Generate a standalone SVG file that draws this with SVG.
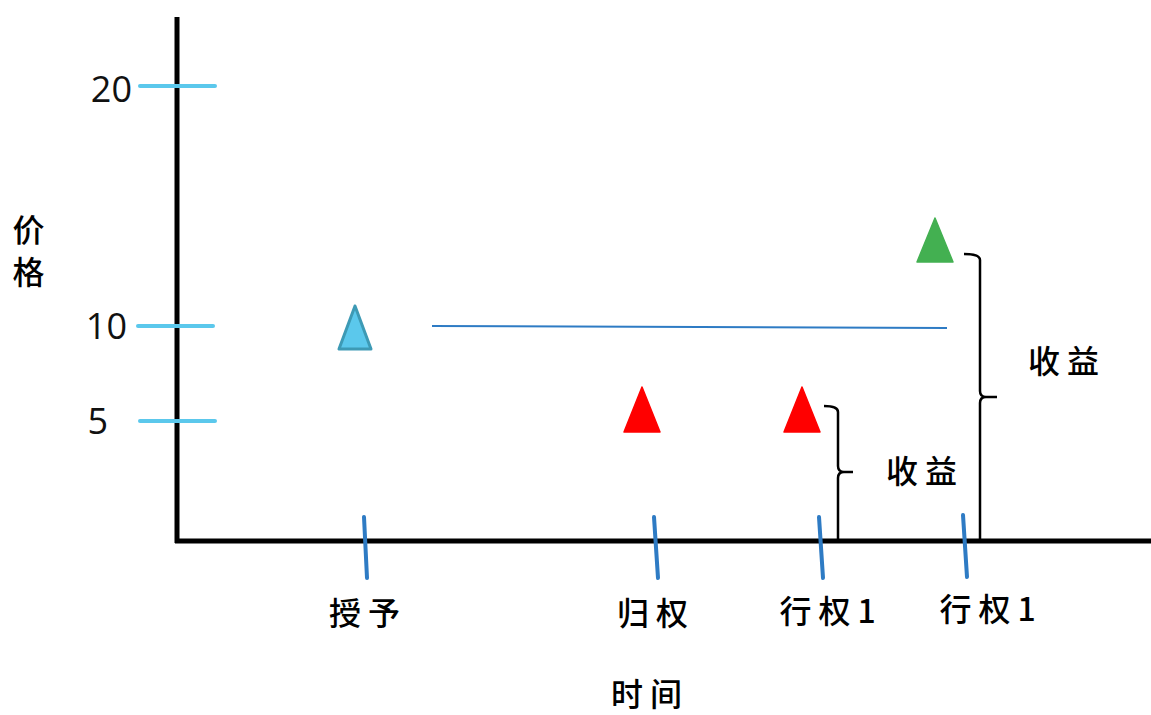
<svg xmlns="http://www.w3.org/2000/svg" width="1151" height="715" viewBox="0 0 1151 715">
<style>
.axis{stroke:#000;stroke-width:5;fill:none}
.ytick{stroke:#5bc8ec;stroke-width:4;stroke-linecap:round}
.xtick{stroke:#2e7bc4;stroke-width:4;stroke-linecap:round}
.brace{stroke:#000;stroke-width:2.5;fill:none}
.num{font-family:"Open Sans","Noto Sans",sans-serif;font-size:36px;fill:#111}
.cjk{font-family:"Noto Sans CJK SC",sans-serif;font-size:32px;font-weight:500;fill:#000;letter-spacing:7px}
</style>
<rect width="1151" height="715" fill="#fff"/>
<g id="axes">
<line class="axis" x1="177" y1="17" x2="177" y2="543"/>
<line class="axis" x1="175" y1="541" x2="1151" y2="541"/>
</g>
<g id="y-ticks">
<line class="ytick" x1="140" y1="86" x2="215" y2="86"/>
<line class="ytick" x1="138" y1="326" x2="213" y2="326"/>
<line class="ytick" x1="140" y1="421" x2="215" y2="421"/>
<text class="num" x="132" y="102" text-anchor="end">20</text>
<text class="num" x="127" y="339" text-anchor="end">10</text>
<text class="num" x="108" y="434" text-anchor="end">5</text>
</g>
<g id="y-label">
<text class="cjk" x="32" y="242" text-anchor="middle" letter-spacing="0" font-size="34">价</text>
<text class="cjk" x="32" y="284" text-anchor="middle" letter-spacing="0" font-size="34">格</text>
</g>
<g id="connectors">
<line x1="432" y1="326" x2="947" y2="328" stroke="#2e7bc4" stroke-width="2"/>
<path class="brace" d="M824,406 Q838,406 838,412 V466 Q838,472 844,472 H853 M844,472 Q838,472 838,478 V541"/>
<path class="brace" d="M964,254 Q980,254 980,260 V391 Q980,397 986,397 H997 M986,397 Q980,397 980,403 V541"/>
</g>
<g id="grant">
<polygon points="355,306 339,349 371,349" fill="#5bc8ec" stroke="#3d9ab5" stroke-width="3" stroke-linejoin="round"/>
<line class="xtick" x1="364" y1="517" x2="367" y2="578"/>
<text class="cjk" x="368" y="625" text-anchor="middle">授予</text>
</g>
<g id="vest">
<polygon points="642,387 624,432 660,432" fill="#ff0000" stroke="#ff0000" stroke-width="1.5" stroke-linejoin="round"/>
<line class="xtick" x1="654" y1="517" x2="658" y2="578"/>
<text class="cjk" x="656" y="625" text-anchor="middle">归权</text>
</g>
<g id="exercise1">
<polygon points="802,387 784,432 820,432" fill="#ff0000" stroke="#ff0000" stroke-width="1.5" stroke-linejoin="round"/>
<line class="xtick" x1="819" y1="517" x2="823" y2="578"/>
<text class="cjk" x="831" y="623" text-anchor="middle">行权1</text>
<text class="cjk" x="925" y="483" text-anchor="middle">收益</text>
</g>
<g id="exercise2">
<polygon points="935,218 917,262 953,262" fill="#43b051" stroke="#43b051" stroke-width="1.5" stroke-linejoin="round"/>
<line class="xtick" x1="963" y1="515" x2="967" y2="577"/>
<text class="cjk" x="991" y="621" text-anchor="middle">行权1</text>
<text class="cjk" x="1067" y="373" text-anchor="middle">收益</text>
</g>
<g id="x-label">
<text class="cjk" x="650" y="706" text-anchor="middle">时间</text>
</g>
</svg>
